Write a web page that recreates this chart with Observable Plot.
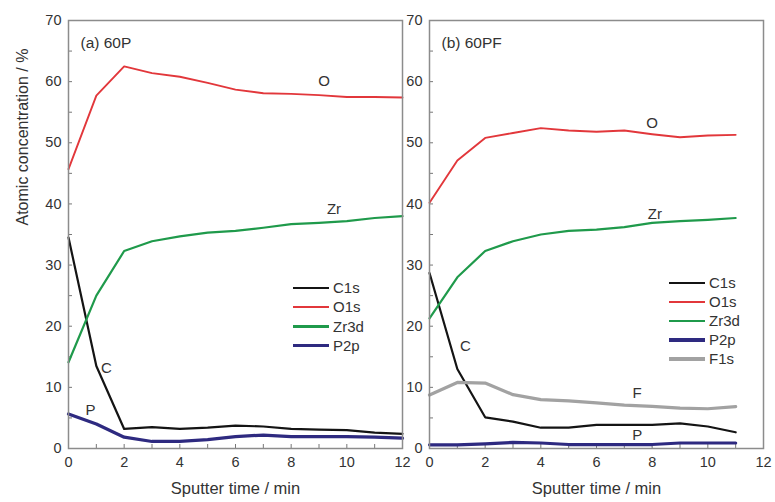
<!DOCTYPE html>
<html><head><meta charset="utf-8">
<script src="https://cdn.jsdelivr.net/npm/d3@7"></script>
<script src="https://cdn.jsdelivr.net/npm/@observablehq/plot@0.6"></script>
<style>
body{margin:0;background:#fff;}
#wrap{position:relative;width:775px;height:502px;font-family:"Liberation Sans",Arial,sans-serif;color:#333;overflow:hidden;}
#wrap svg{position:absolute;top:0;overflow:visible;}
.leg{position:absolute;font-size:15px;line-height:18px;height:18px;white-space:nowrap;}
.leg .ln{position:absolute;left:0;width:36px;}
.leg .tx{position:absolute;left:40px;top:0;}
</style></head><body><div id="wrap"></div>
<script>
// ---- data: panel (a) 60P ----
const timeA = [0,1,2,3,4,5,6,7,8,9,10,11,12];
const C1s_A  = [34.5,13.5,3.2,3.5,3.2,3.4,3.75,3.6,3.2,3.1,3.0,2.6,2.4];
const O1s_A  = [45.7,57.7,62.5,61.4,60.8,59.8,58.7,58.1,58.0,57.8,57.5,57.5,57.4];
const Zr3d_A = [14.1,25.0,32.3,33.9,34.7,35.3,35.6,36.1,36.7,36.9,37.2,37.7,38.0];
const P2p_A  = [5.65,4.0,1.85,1.15,1.15,1.45,1.95,2.2,1.95,1.95,1.95,1.85,1.7];
// ---- data: panel (b) 60PF ----
const timeB = [0,1,2,3,4,5,6,7,8,9,10,11];
const C1s_B  = [28.7,13.0,5.1,4.4,3.4,3.4,3.85,3.85,3.85,4.1,3.6,2.65];
const O1s_B  = [40.2,47.1,50.8,51.6,52.4,52.0,51.8,52.0,51.4,50.9,51.2,51.3];
const Zr3d_B = [21.3,28.0,32.3,33.9,35.0,35.6,35.8,36.2,36.9,37.2,37.4,37.7];
const P2p_B  = [0.6,0.6,0.75,1.0,0.9,0.65,0.65,0.65,0.65,0.9,0.9,0.9];
const F1s_B  = [8.75,10.8,10.7,8.8,8.0,7.8,7.45,7.1,6.9,6.6,6.5,6.85];
// ---- labels ----
const seriesNames = ["C1s","O1s","Zr3d","P2p","F1s"];
const xTicks = [0,2,4,6,8,10,12];
const yTicks = [0,10,20,30,40,50,60,70];
const xMinor = [0,1,2,3,4,5,6,7,8,9,10,11,12];
const yMinor = [0,5,10,15,20,25,30,35,40,45,50,55,60,65,70];
const panelTitles = ["(a) 60P","(b) 60PF"];
const xTitle = "Sputter time / min";
const yTitle = "Atomic concentration / %";
const annA = [{s:"O",t:9.18,v:60.0},{s:"Zr",t:9.54,v:39.1},{s:"C",t:1.36,v:13.2},{s:"P",t:0.79,v:6.2}];
const annB = [{s:"O",t:8.0,v:53.2},{s:"Zr",t:8.1,v:38.3},{s:"C",t:1.29,v:16.8},{s:"F",t:7.46,v:9.1},{s:"P",t:7.46,v:2.1}];

const style = {
  C1s:{color:"#141414",w:2.2}, O1s:{color:"#e2373b",w:1.9}, Zr3d:{color:"#1f9a4b",w:2.2},
  P2p:{color:"#2e2a80",w:3.2}, F1s:{color:"#a2a2a2",w:3.2}
};

function rows(time, vals){ return time.map((t,i)=>({t, v: vals[i]})); }

function panel({width, marginLeft, marginRight, title, series, ann, showYTitle}){
  const fw = width - marginLeft - marginRight;
  const fh = 502 - 20 - 54;
  const marks = [
    Plot.tickY(yMinor, {y: d => d, insetRight: fw - 4, stroke:"#777", strokeWidth:1}),
    Plot.tickX(xMinor, {x: d => d, insetTop: fh - 4, stroke:"#777", strokeWidth:1}),
    Plot.axisY(yTicks, {anchor:"left", tickSize:0, tickPadding:7, fontSize:14.5, fill:"#333", label:null}),
    Plot.axisX(xTicks, {anchor:"bottom", tickSize:0, tickPadding:8, fontSize:14.5, fill:"#333", label:null}),
    Plot.text([xTitle], {frameAnchor:"bottom", dy:40, lineAnchor:"middle", fontSize:16.5, fill:"#333"}),
  ];
  if (showYTitle) marks.push(Plot.text([yTitle], {frameAnchor:"left", dx:-46, dy:-9, rotate:-90, lineAnchor:"middle", fontSize:16, fill:"#333"}));
  for (const [name, data] of series) {
    marks.push(Plot.line(data, {x:"t", y:"v", stroke: style[name].color, strokeWidth: style[name].w, strokeLinejoin:"round"}));
  }
  marks.push(Plot.text(ann, {x:"t", y:"v", text:"s", fontSize:15, fill:"#333"}));
  marks.push(Plot.text([title], {frameAnchor:"top-left", dx:12, dy:16, fontSize:15.5, fill:"#333", lineAnchor:"top"}));
  marks.push(Plot.frame({stroke:"#8c8c8c", strokeWidth:1.5}));
  return Plot.plot({
    width, height:502, marginLeft, marginRight, marginTop:20, marginBottom:54,
    style:{background:"transparent", fontFamily:"'Liberation Sans', Arial, sans-serif", fontSize:"14px", color:"#333", overflow:"visible"},
    x:{domain:[0,12]}, y:{domain:[0,70]},
    marks
  });
}

const wrap = document.getElementById("wrap");
const svgA = panel({width:420, marginLeft:68, marginRight:18, title:panelTitles[0], ann:annA, showYTitle:true,
  series:[["C1s",rows(timeA,C1s_A)],["O1s",rows(timeA,O1s_A)],["Zr3d",rows(timeA,Zr3d_A)],["P2p",rows(timeA,P2p_A)]]});
svgA.style.left = "0px";
wrap.appendChild(svgA);
const svgB = panel({width:395, marginLeft:49, marginRight:12, title:panelTitles[1], ann:annB, showYTitle:false,
  series:[["C1s",rows(timeB,C1s_B)],["O1s",rows(timeB,O1s_B)],["Zr3d",rows(timeB,Zr3d_B)],["P2p",rows(timeB,P2p_B)],["F1s",rows(timeB,F1s_B)]]});
svgB.style.left = "380px";
wrap.appendChild(svgB);

function legend(names, x, y0, step){
  names.forEach((n,i)=>{
    const d = document.createElement("div");
    d.className = "leg";
    d.style.left = x + "px";
    d.style.top = (y0 + i*step - 9) + "px";
    const ln = document.createElement("div");
    ln.className = "ln";
    ln.style.height = style[n].w + "px";
    ln.style.top = (9 - style[n].w/2) + "px";
    ln.style.background = style[n].color;
    const tx = document.createElement("div");
    tx.className = "tx";
    tx.textContent = n;
    d.appendChild(ln); d.appendChild(tx);
    wrap.appendChild(d);
  });
}
legend(seriesNames.slice(0,4), 293, 288, 19.3);
legend(seriesNames, 669, 283, 19);
</script></body></html>
